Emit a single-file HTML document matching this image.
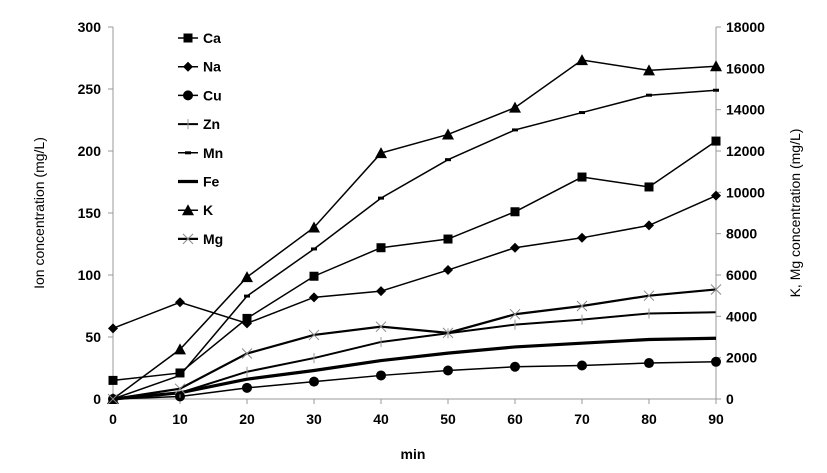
<!DOCTYPE html>
<html><head><meta charset="utf-8"><style>
body{margin:0;background:#fff;}
svg{display:block;font-family:"Liberation Sans",Arial,sans-serif;}
</style></head><body>
<svg id="chart" width="827" height="473" viewBox="0 0 827 473"></svg>
<script>
const minutes=[0,10,20,30,40,50,60,70,80,90];
const leftTicks=[0,50,100,150,200,250,300];
const rightTicks=[0,2000,4000,6000,8000,10000,12000,14000,16000,18000];
const ca=[15,21,65,99,122,129,151,179,171,208];
const na=[57,78,61,82,87,104,122,130,140,164];
const cu=[0,2,9,14,19,23,26,27,29,30];
const zn=[0,5,22,33,46,53,60,64,69,70];
const mn=[0,19,83,121,162,193,217,231,245,249];
const fe=[0,5,16,23,31,37,42,45,48,49];
const k=[0,2400,5900,8300,11900,12800,14100,16400,15900,16100];
const mg=[0,500,2200,3100,3500,3200,4100,4500,5000,5300];
const NS="http://www.w3.org/2000/svg";
const svg=document.getElementById('chart');
const X0=113,X1=716,Y0=399,Y1=27;
const xs=v=>X0+(v/90)*(X1-X0);
const yl=v=>Y0-(v/300)*(Y0-Y1);
const yr=v=>Y0-(v/18000)*(Y0-Y1);
function mk(t,a,p){const e=document.createElementNS(NS,t);for(const q in a)e.setAttribute(q,a[q]);(p||svg).appendChild(e);return e;}
// axes
let ax=mk('line',{x1:X0,y1:Y1,x2:X0,y2:Y0,stroke:'#999'});


ax=mk('line',{x1:X1,y1:Y1,x2:X1,y2:Y0,stroke:'#999'});


ax=mk('line',{x1:X0,y1:Y0,x2:X1,y2:Y0,stroke:'#999'});


leftTicks.forEach(v=>{
 mk('line',{x1:X0-5,y1:yl(v),x2:X0,y2:yl(v),stroke:'#999'});
 const t=mk('text',{x:X0-12,y:yl(v)+5,'text-anchor':'end','font-size':14,'font-weight':'bold'});t.textContent=v;
 
 
});
rightTicks.forEach(v=>{
 mk('line',{x1:X1,y1:yr(v),x2:X1+5,y2:yr(v),stroke:'#999'});
 const t=mk('text',{x:X1+10,y:yr(v)+5,'text-anchor':'start','font-size':14,'font-weight':'bold'});t.textContent=v;
 
 
});
minutes.forEach(v=>{
 mk('line',{x1:xs(v),y1:Y0,x2:xs(v),y2:Y0+5,stroke:'#999'});
 const t=mk('text',{x:xs(v),y:Y0+25,'text-anchor':'middle','font-size':14,'font-weight':'bold'});t.textContent=v;
 
 
});
let t=mk('text',{x:413,y:459,'text-anchor':'middle','font-size':14,'font-weight':'bold'});t.textContent='min';


t=mk('text',{x:0,y:0,transform:'translate(44,213) rotate(-90)','text-anchor':'middle','font-size':14});t.textContent='Ion concentration (mg/L)';


t=mk('text',{x:0,y:0,transform:'translate(800,213) rotate(-90)','text-anchor':'middle','font-size':14});t.textContent='K, Mg concentration (mg/L)';


function marker(g,type,x,y){
 if(type==='sq')mk('rect',{x:x-4.5,y:y-4.5,width:9,height:9,fill:'#000'},g);
 else if(type==='dia')mk('polygon',{points:`${x},${y-5} ${x+5},${y} ${x},${y+5} ${x-5},${y}`,fill:'#000'},g);
 else if(type==='circ')mk('circle',{cx:x,cy:y,r:5,fill:'#000'},g);
 else if(type==='tri')mk('polygon',{points:`${x},${y-6} ${x+6},${y+5} ${x-6},${y+5}`,fill:'#000'},g);
 else if(type==='plus'){mk('line',{x1:x,y1:y-5,x2:x,y2:y+5,stroke:'#999','stroke-width':1},g);}
 else if(type==='dash')mk('line',{x1:x-3,y1:y,x2:x+3,y2:y,stroke:'#000','stroke-width':3},g);
 else if(type==='x'){mk('line',{x1:x-5,y1:y-5,x2:x+5,y2:y+5,stroke:'#888'},g);mk('line',{x1:x-5,y1:y+5,x2:x+5,y2:y-5,stroke:'#888'},g);}
}
const series=[
 ['Ca',ca,yl,'sq',1.5],['Na',na,yl,'dia',1.5],['Cu',cu,yl,'circ',1.5],['Zn',zn,yl,'plus',2],
 ['Mn',mn,yl,'dash',1.5],['Fe',fe,yl,'none',3.2],['K',k,yr,'tri',1.5],['Mg',mg,yr,'x',2.2]];
series.forEach((s,i)=>{
 const [name,vals,ys,m,w]=s;
 const g=mk('g',{});
 
 
 mk('polyline',{points:vals.map((v,j)=>xs(minutes[j])+','+ys(v)).join(' '),fill:'none',stroke:'#000','stroke-width':w},g);
 vals.forEach((v,j)=>marker(g,m,xs(minutes[j]),ys(v)));
 const ly=38+i*28.7;
 const lg=mk('g',{});
 
 
 mk('line',{x1:178,y1:ly,x2:198,y2:ly,stroke:'#000','stroke-width':w},lg);
 marker(lg,m,188,ly);
 const lt=mk('text',{x:203,y:ly+5,'font-size':14,'font-weight':'bold'},lg);lt.textContent=name;
});
</script>
</body></html>
